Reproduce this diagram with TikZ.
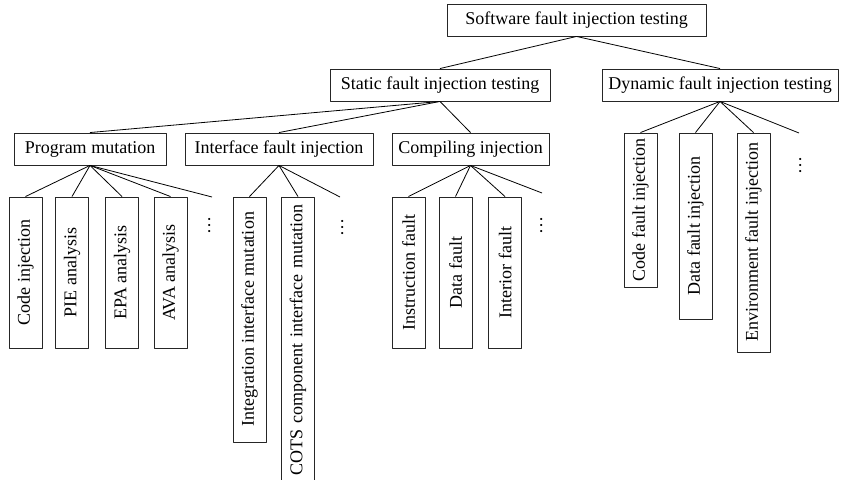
\documentclass[tikz,border=0pt]{standalone}
\usepackage{fontspec}
\setmainfont{Liberation Serif}
\begin{document}
\begin{tikzpicture}[line join=bevel,
  box/.style={draw=black!85,line width=0.9bp,inner sep=0bp,minimum height=32bp},
  leaf/.style={draw=black!85,line width=0.9bp,inner sep=0bp,rotate=90,minimum height=33bp},
  more/.style={rotate=90,inner sep=0bp,anchor=base},
  font=\fontsize{18bp}{21bp}\selectfont]
%%
\useasboundingbox (0bp,0bp) rectangle (841bp,480bp);
\node (node_0) at (576.5bp,460.0bp) [box,minimum width=259bp] {Software fault injection testing};
  \node (node_1) at (440.0bp,395.0bp) [box,minimum width=220bp] {Static fault injection testing};
  \node (node_2) at (720.0bp,395.0bp) [box,minimum width=236bp] {Dynamic fault injection testing};
  \node (node_3) at (90.0bp,331.0bp) [box,minimum width=152bp] {Program mutation};
  \node (node_4) at (279.0bp,331.0bp) [box,minimum width=188bp] {Interface fault injection};
  \node (node_5) at (470.5bp,331.0bp) [box,minimum width=157bp] {Compiling injection};
  \node (node_6) at (25.5bp,207.5bp) [leaf,minimum width=151bp] {Code injection};
  \node (node_7) at (72.0bp,207.5bp) [leaf,minimum width=151bp] {PIE analysis};
  \node (node_8) at (122.0bp,207.5bp) [leaf,minimum width=151bp] {EPA analysis};
  \node (node_9) at (170.5bp,207.5bp) [leaf,minimum width=151bp] {AVA analysis};
  \node (node_10) at (210.0bp,254.5bp) [more] {…};
  \node (node_11) at (249.5bp,160.5bp) [leaf,minimum width=245bp] {Integration interface mutation};
  \node (node_12) at (298.0bp,132.5bp) [leaf,inner xsep=8bp,text width=285bp,align=right] {COTS component interface mutation};
  \node (node_13) at (343.0bp,252.5bp) [more] {…};
  \node (node_14) at (408.5bp,207.5bp) [leaf,minimum width=151bp] {Instruction fault};
  \node (node_15) at (455.5bp,207.5bp) [leaf,minimum width=151bp] {Data fault};
  \node (node_16) at (505.0bp,207.5bp) [leaf,minimum width=151bp] {Interior fault};
  \node (node_17) at (542.0bp,254.0bp) [more] {…};
  \node (node_18) at (640.5bp,270.0bp) [leaf,minimum width=154bp] {Code fault injection};
  \node (node_19) at (695.5bp,254.0bp) [leaf,minimum width=186bp] {Data fault injection};
  \node (node_20) at (753.5bp,237.5bp) [leaf,minimum width=219bp] {Environment fault injection};
  \node (node_21) at (801.0bp,314.5bp) [more] {…};
  \coordinate (node_10_top) at (212.0bp,283.0bp);
  \coordinate (node_13_top) at (340.0bp,283.0bp);
  \coordinate (node_17_top) at (542.0bp,287.0bp);
  \coordinate (node_21_top) at (799.0bp,347.0bp);
  \draw [black,line width=0.8bp] (node_0.south) -- (node_1.north);
  \draw [black,line width=0.8bp] (node_0.south) -- (node_2.north);
  \draw [black,line width=0.8bp] (node_1.south) -- (node_3.north);
  \draw [black,line width=0.8bp] (node_1.south) -- (node_4.north);
  \draw [black,line width=0.8bp] (node_1.south) -- (node_5.north);
  \draw [black,line width=0.8bp] (node_3.south) -- (node_6.east);
  \draw [black,line width=0.8bp] (node_3.south) -- (node_7.east);
  \draw [black,line width=0.8bp] (node_3.south) -- (node_8.east);
  \draw [black,line width=0.8bp] (node_3.south) -- (node_9.east);
  \draw [black,line width=0.8bp] (node_3.south) -- (node_10_top);
  \draw [black,line width=0.8bp] (node_4.south) -- (node_11.east);
  \draw [black,line width=0.8bp] (node_4.south) -- (node_12.east);
  \draw [black,line width=0.8bp] (node_4.south) -- (node_13_top);
  \draw [black,line width=0.8bp] (node_5.south) -- (node_14.east);
  \draw [black,line width=0.8bp] (node_5.south) -- (node_15.east);
  \draw [black,line width=0.8bp] (node_5.south) -- (node_16.east);
  \draw [black,line width=0.8bp] (node_5.south) -- (node_17_top);
  \draw [black,line width=0.8bp] (node_2.south) -- (node_18.east);
  \draw [black,line width=0.8bp] (node_2.south) -- (node_19.east);
  \draw [black,line width=0.8bp] (node_2.south) -- (node_20.east);
  \draw [black,line width=0.8bp] (node_2.south) -- (node_21_top);
%
\end{tikzpicture}
\end{document}
